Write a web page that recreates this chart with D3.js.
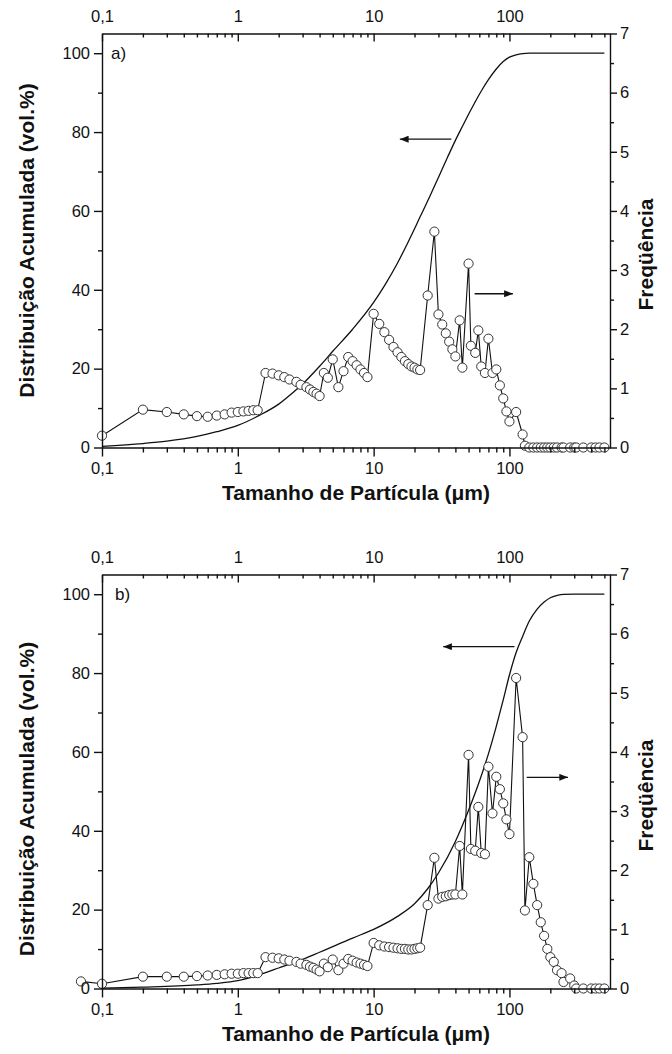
<!DOCTYPE html>
<html>
<head>
<meta charset="utf-8">
<script src="https://cdn.jsdelivr.net/npm/d3@7"></script>
<style>
  body { margin: 0; background: #fff; }
  svg { display: block; font-family: "Liberation Sans", Arial, sans-serif; }
</style>
</head>
<body>
<div id="chart"></div>
<script>
// particle size classes (um) used by the frequency curves
const sizesA = [
  0.1, 0.2, 0.3, 0.4, 0.5, 0.6, 0.7, 0.8, 0.9, 1.0, 1.1, 1.2, 1.3, 1.4,
  1.6, 1.8, 2.0, 2.2, 2.4, 2.7, 2.9, 3.2, 3.4, 3.6, 3.8, 4.0,
  4.3, 4.6, 5.0, 5.5, 6.0, 6.5, 7.0, 7.5, 8.0, 8.5, 9.0,
  10, 11, 12, 13, 14, 15, 16, 17, 18, 19, 20, 21, 22,
  25, 28, 30, 32, 34, 36, 38, 40, 43, 45, 50, 52, 56, 59, 62, 66, 70, 75, 80, 85, 90, 95, 100, 112, 125,
  130, 140, 150, 160, 170, 180, 190, 200, 212, 224, 242, 250, 280, 300, 310, 350, 400, 430, 460, 500
]
const sizesB = [0.07].concat(sizesA)

// frequency (right axis)
const freqA = [
  0.20, 0.64, 0.60, 0.56, 0.53, 0.52, 0.54, 0.56, 0.59, 0.60, 0.61, 0.62, 0.63, 0.63,
  1.26, 1.25, 1.22, 1.19, 1.15, 1.11, 1.06, 1.02, 0.98, 0.94, 0.91, 0.87,
  1.26, 1.18, 1.49, 1.02, 1.29, 1.53, 1.46, 1.39, 1.32, 1.26, 1.19,
  2.26, 2.09, 1.95, 1.82, 1.70, 1.61, 1.53, 1.46, 1.41, 1.37, 1.35, 1.32, 1.31,
  2.57, 3.65, 2.25, 2.08, 1.93, 1.79, 1.66, 1.54, 2.15, 1.35, 3.11, 1.72, 1.60, 1.98, 1.37, 1.26, 1.84, 1.26, 1.32, 1.05, 0.83, 0.61, 0.44, 0.60, 0.22,
  0.03, 0, 0, 0, 0, 0, 0, 0, 0, 0, 0, 0, 0, 0, 0, 0, 0, 0, 0, 0
]
const freqB = [
  0.12,
  0.08, 0.20, 0.20, 0.20, 0.21, 0.22, 0.23, 0.24, 0.25, 0.25, 0.26, 0.26, 0.26, 0.26,
  0.53, 0.52, 0.51, 0.49, 0.47, 0.45, 0.42, 0.40, 0.37, 0.35, 0.32, 0.29,
  0.42, 0.36, 0.49, 0.31, 0.42, 0.50, 0.47, 0.44, 0.42, 0.40, 0.38,
  0.77, 0.73, 0.71, 0.70, 0.69, 0.68, 0.67, 0.67, 0.66, 0.66, 0.67, 0.68, 0.69,
  1.41, 2.21, 1.52, 1.55, 1.56, 1.58, 1.59, 1.59, 2.41, 1.59, 3.95, 2.36, 2.33, 3.07, 2.29, 2.27, 3.75, 2.96, 3.58, 3.37, 3.13, 2.86, 2.61, 5.25, 4.25,
  1.32, 2.22, 1.77, 1.41, 1.12, 0.89, 0.67, 0.53, 0.45, 0.31, 0.26, 0.11, 0.17, 0.05, 0, 0, 0, 0, 0, 0
]

// cumulative distribution (left axis)
const cumSizesA = [0.1, 0.2, 0.3, 0.5, 0.7, 1, 1.45, 2, 2.5, 3, 4, 5, 7, 10, 12, 15, 18, 22, 26, 30, 35, 40, 45, 50, 56, 63, 70, 80, 90, 100, 112, 125, 140, 500]
const cumA = [0.3, 1.0, 1.6, 2.8, 4.0, 5.6, 8.2, 11.0, 13.7, 16.1, 20.6, 24.4, 30.0, 36.8, 41.0, 46.8, 52.2, 58.5, 63.8, 68.5, 73.6, 77.9, 81.4, 84.5, 87.7, 90.8, 93.3, 96.0, 97.9, 99.0, 99.6, 99.9, 100, 100]
const cumSizesB = [0.1, 0.2, 0.5, 0.7, 1, 1.5, 2, 3, 4, 5, 7, 10, 15, 20, 25, 30, 40, 50, 60, 70, 80, 90, 100, 112, 125, 140, 160, 180, 200, 225, 250, 300, 500]
const cumB = [0.1, 0.35, 0.9, 1.3, 2.0, 3.7, 5.2, 7.4, 9.2, 10.6, 12.8, 15.0, 18.3, 21.5, 25.3, 29.3, 37.3, 45.2, 52.5, 59.5, 66.5, 73.2, 79.5, 85.2, 89.3, 93.2, 96.2, 98.0, 99.1, 99.7, 99.95, 100, 100]

// ticks
const xTicks = [0.1, 1, 10, 100]
const leftTicks = [0, 20, 40, 60, 80, 100]
const leftMinor = [10, 30, 50, 70, 90]
const rightTicks = [0, 1, 2, 3, 4, 5, 6, 7]
const rightMinor = [0.5, 1.5, 2.5, 3.5, 4.5, 5.5, 6.5]

const W = 672, H = 1054
const plotLeft = 102, plotRight = 610, plotH = 414

const svg = d3.select("#chart").append("svg")
  .attr("width", W).attr("height", H)

const defs = svg.append("defs")
defs.append("marker")
  .attr("id", "head")
  .attr("viewBox", "0 0 10 8")
  .attr("refX", 10).attr("refY", 4)
  .attr("markerUnits", "userSpaceOnUse")
  .attr("markerWidth", 10).attr("markerHeight", 7)
  .attr("orient", "auto")
  .append("path").attr("d", "M0,0L10,4L0,8Z").attr("fill", "#111")

const x = d3.scaleLog().domain([0.1, 550]).range([plotLeft, plotRight])

const xMinor = []
xTicks.forEach(d => { for (let k = 2; k <= 9; k++) if (d * k < 550) xMinor.push(d * k) })

const fmt = d => String(d).replace(".", ",")

const panels = [
  { label: "a)", labelX: 111, top: 33.5, sizes: sizesA, freq: freqA, cumSizes: cumSizesA, cum: cumA,
    leftTitleY: 240.5, arrowL: [37.3, 15.6, 78.2], arrowR: [55.4, 106, 2.6] },
  { label: "b)", labelX: 115, top: 574.5, sizes: sizesB, freq: freqB, cumSizes: cumSizesB, cum: cumB,
    leftTitleY: 799, arrowL: [108.9, 32.5, 86.7], arrowR: [134, 270, 3.57] }
]

function styleAxis(g) {
  g.attr("font-size", 16.5).attr("font-family", "Liberation Sans, Arial, sans-serif")
  g.selectAll("path, line").attr("stroke", "#111").attr("stroke-width", 1.4)
  g.selectAll("text").attr("fill", "#111")
}

panels.forEach(p => {
  const bottom = p.top + plotH
  const yL = d3.scaleLinear().domain([0, 105]).range([bottom, p.top])
  const yR = d3.scaleLinear().domain([0, 7]).range([bottom, p.top])
  const g = svg.append("g")

  // cumulative curve
  const lineC = d3.line()
    .x(d => x(d[0])).y(d => yL(d[1]))
    .curve(d3.curveMonotoneX)
  g.append("path")
    .datum(d3.zip(p.cumSizes, p.cum))
    .attr("d", lineC)
    .attr("fill", "none").attr("stroke", "#111").attr("stroke-width", 1.3)

  // frequency line + markers
  const pts = d3.zip(p.sizes, p.freq)
  const lineF = d3.line().x(d => x(d[0])).y(d => yR(d[1]))
  g.append("path")
    .datum(pts)
    .attr("d", lineF)
    .attr("fill", "none").attr("stroke", "#111").attr("stroke-width", 1.1)
  g.append("g").selectAll("circle")
    .data(pts)
    .enter().append("circle")
      .attr("cx", d => x(d[0]))
      .attr("cy", d => yR(d[1]))
      .attr("r", 4.6)
      .attr("fill", "#fff").attr("stroke", "#333").attr("stroke-width", 1)

  // axes
  g.append("g").attr("transform", `translate(0,${bottom})`)
    .call(d3.axisBottom(x).tickValues(xTicks).tickFormat(fmt).tickSize(9).tickPadding(6).tickSizeOuter(0))
    .call(styleAxis)
  g.append("g").attr("transform", `translate(0,${bottom})`)
    .call(d3.axisBottom(x).tickValues(xMinor).tickFormat("").tickSize(5))
    .call(a => a.select(".domain").remove())
    .call(styleAxis)

  g.append("g").attr("transform", `translate(0,${p.top})`)
    .call(d3.axisTop(x).tickValues(xTicks).tickFormat(fmt).tickSize(-8).tickPadding(12).tickSizeOuter(0))
    .call(styleAxis)
  g.append("g").attr("transform", `translate(0,${p.top})`)
    .call(d3.axisTop(x).tickValues(xMinor).tickFormat("").tickSize(-4))
    .call(a => a.select(".domain").remove())
    .call(styleAxis)

  g.append("g").attr("transform", `translate(${plotLeft},0)`)
    .call(d3.axisLeft(yL).tickValues(leftTicks).tickFormat(d3.format("d")).tickSize(8).tickPadding(4).tickSizeOuter(0))
    .call(styleAxis)
  g.append("g").attr("transform", `translate(${plotLeft},0)`)
    .call(d3.axisLeft(yL).tickValues(leftMinor).tickFormat("").tickSize(4))
    .call(a => a.select(".domain").remove())
    .call(styleAxis)

  g.append("g").attr("transform", `translate(${plotRight},0)`)
    .call(d3.axisRight(yR).tickValues(rightTicks).tickFormat(d3.format("d")).tickSize(7).tickPadding(3).tickSizeOuter(0))
    .call(styleAxis)
  g.append("g").attr("transform", `translate(${plotRight},0)`)
    .call(d3.axisRight(yR).tickValues(rightMinor).tickFormat("").tickSize(4))
    .call(a => a.select(".domain").remove())
    .call(styleAxis)

  // arrows pointing to the axis each curve belongs to
  g.append("line")
    .attr("x1", x(p.arrowL[0])).attr("x2", x(p.arrowL[1]))
    .attr("y1", yL(p.arrowL[2])).attr("y2", yL(p.arrowL[2]))
    .attr("stroke", "#111").attr("stroke-width", 1.3)
    .attr("marker-end", "url(#head)")
  g.append("line")
    .attr("x1", x(p.arrowR[0])).attr("x2", x(p.arrowR[1]))
    .attr("y1", yR(p.arrowR[2])).attr("y2", yR(p.arrowR[2]))
    .attr("stroke", "#111").attr("stroke-width", 1.3)
    .attr("marker-end", "url(#head)")

  // panel letter
  g.append("text")
    .attr("x", p.labelX).attr("y", p.top + 25)
    .attr("font-size", 17).attr("fill", "#111")
    .text(p.label)

  // titles
  g.append("text")
    .attr("x", (plotLeft + plotRight) / 2).attr("y", bottom + 52.5)
    .attr("text-anchor", "middle")
    .attr("font-size", 21).attr("font-weight", "bold").attr("fill", "#111")
    .text("Tamanho de Partícula (μm)")
  g.append("text")
    .attr("transform", `translate(33.5,${p.leftTitleY}) rotate(-90)`)
    .attr("text-anchor", "middle")
    .attr("font-size", 21).attr("font-weight", "bold").attr("fill", "#111")
    .text("Distribuição Acumulada (vol.%)")
  g.append("text")
    .attr("transform", `translate(653,${p.top + plotH / 2 + 14}) rotate(-90)`)
    .attr("text-anchor", "middle")
    .attr("font-size", 21).attr("font-weight", "bold").attr("fill", "#111")
    .text("Freqüência")
})
</script>
</body>
</html>
